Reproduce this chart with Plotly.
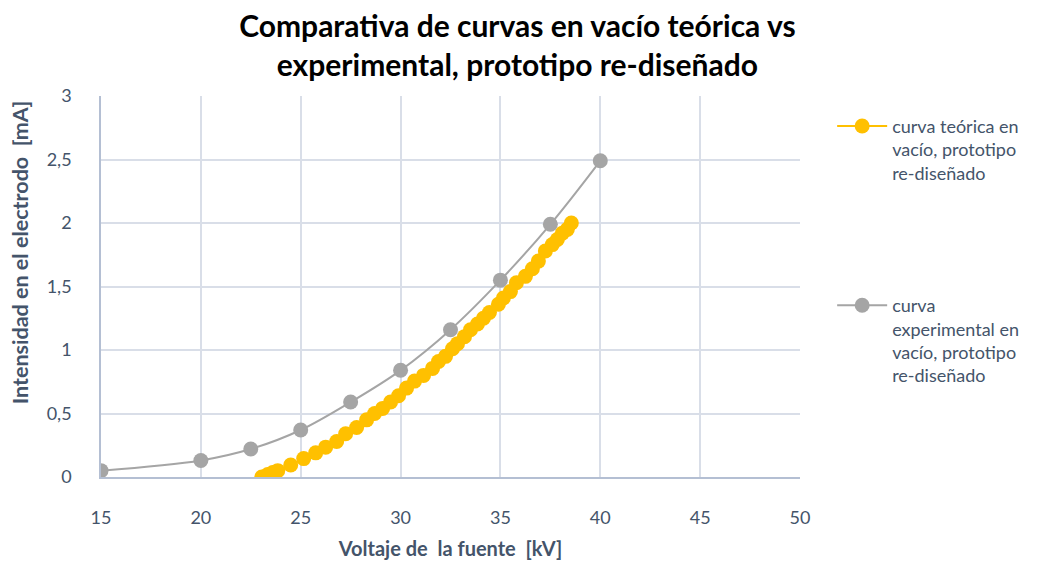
import plotly.graph_objects as go

# Experimental curve (gray)
exp_x = [15, 20, 22.5, 25, 27.5, 30, 32.5, 35, 37.5, 40]
exp_y = [0.05, 0.13, 0.22, 0.37, 0.59, 0.84, 1.16, 1.55, 1.99, 2.49]

# Theoretical curve (yellow)
teo_x = [23.05, 23.35, 23.6, 23.85, 24.5, 25.15, 25.75, 26.25, 26.8, 27.25, 27.8, 28.3, 28.7,
         29.1, 29.5, 29.9, 30.3, 30.7, 31.15, 31.6, 31.9, 32.25, 32.6, 32.85, 33.2, 33.5,
         33.85, 34.15, 34.45, 34.9, 35.15, 35.5, 35.8, 36.25, 36.6, 36.9, 37.25, 37.6,
         37.85, 38.1, 38.35, 38.55]
teo_y = [0.0, 0.02, 0.035, 0.05, 0.095, 0.145, 0.19, 0.235, 0.28, 0.34, 0.39, 0.45, 0.5,
         0.54, 0.59, 0.64, 0.70, 0.755, 0.80, 0.855, 0.91, 0.95, 1.01, 1.05, 1.105, 1.16,
         1.205, 1.25, 1.295, 1.36, 1.41, 1.46, 1.53, 1.58, 1.64, 1.70, 1.78, 1.83,
         1.87, 1.92, 1.95, 2.0]

x_ticks = [15, 20, 25, 30, 35, 40, 45, 50]
y_ticks = [0, 0.5, 1, 1.5, 2, 2.5, 3]
y_labels = ["0", "0,5", "1", "1,5", "2", "2,5", "3"]

name_teo = "curva teórica en<br>vacío, prototipo<br>re-diseñado"
name_exp = "curva<br>experimental en<br>vacío, prototipo<br>re-diseñado"

txt = "#44546A"
font_family = "Lato, 'Open Sans', sans-serif"

fig = go.Figure()
fig.add_trace(go.Scatter(
    x=teo_x, y=teo_y, mode="lines+markers", name=name_teo, legendgroup="a",
    line=dict(color="#FFC000", width=2, shape="spline"),
    marker=dict(color="#FFC000", size=15),
))
fig.add_trace(go.Scatter(
    x=exp_x, y=exp_y, mode="lines+markers", name=name_exp, legendgroup="b",
    line=dict(color="#A5A5A5", width=2, shape="spline"),
    marker=dict(color="#A5A5A5", size=15),
))

fig.update_layout(
    width=1046, height=554,
    margin=dict(l=93, r=254, t=88, b=85),
    paper_bgcolor="white", plot_bgcolor="white",
    font=dict(family=font_family, color=txt, size=18),
    title=dict(
        text="<b>Comparativa de curvas en vacío teórica vs<br>experimental, prototipo re-diseñado</b>",
        x=0.487, xanchor="center", y=0.948, yanchor="top",
        font=dict(size=30, color="black", family=font_family),
    ),
    legend=dict(
        x=1.046, xanchor="left", y=0.969, yanchor="top", valign="top",
        font=dict(size=18, color=txt), tracegroupgap=106,
        itemwidth=50, bgcolor="rgba(0,0,0,0)",
    ),
    xaxis=dict(
        range=[15, 50], tickvals=x_ticks, showgrid=True, gridcolor="#D9DEE8", gridwidth=1.5,
        showline=True, linecolor="#B4BFD3", linewidth=1.5, zeroline=False, automargin=False,
        ticks="", ticklabelstandoff=24, tickfont=dict(size=18, color=txt),
        title=dict(text="<b>Voltaje de  la fuente  [kV]</b>", font=dict(size=20, color=txt)),
    ),
    yaxis=dict(
        range=[0, 3], tickvals=y_ticks, ticktext=y_labels, showgrid=True, gridcolor="#D9DEE8", gridwidth=1.5,
        showline=True, linecolor="#B4BFD3", linewidth=1.5, zeroline=False, automargin=False,
        ticks="", ticklabelstandoff=24, tickfont=dict(size=18, color=txt),
    ),
    annotations=[dict(
        text="<b>Intensidad en el electrodo  [mA]</b>", textangle=-90,
        xref="paper", yref="paper", x=-0.116, y=0.59, xanchor="center", yanchor="middle",
        showarrow=False, font=dict(size=21.5, color=txt, family=font_family),
    )],
)

fig.write_html("out.html")
